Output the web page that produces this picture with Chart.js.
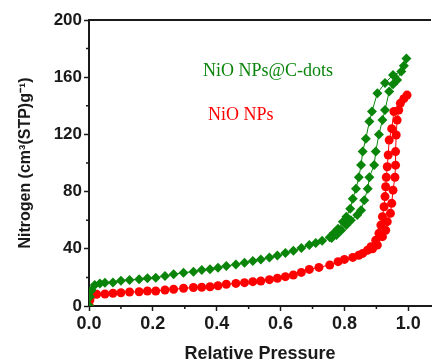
<!DOCTYPE html>
<html>
<head>
<meta charset="utf-8">
<script src="https://cdn.jsdelivr.net/npm/chart.js@4"></script>
<style>
  html, body { margin: 0; padding: 0; background: #fff; }
  #wrap { width: 436px; height: 362px; }
</style>
</head>
<body>
<div id="wrap"><canvas id="bet" width="436" height="362"></canvas></div>
<script>
// NiO NPs@C-dots, adsorption then desorption branch
const greenAdsX = [0.001, 0.003, 0.008, 0.018, 0.034, 0.05, 0.075, 0.10, 0.127, 0.157, 0.183, 0.209, 0.238, 0.265, 0.296, 0.327, 0.353, 0.379, 0.404, 0.43, 0.46, 0.487, 0.513, 0.538, 0.565, 0.59, 0.615, 0.64, 0.665, 0.69, 0.71, 0.73, 0.754, 0.767, 0.78, 0.795, 0.806, 0.818, 0.826, 0.836, 0.845, 0.852, 0.857, 0.867, 0.878, 0.886, 0.903, 0.927, 0.952, 0.978, 0.986, 0.994];
const greenAdsY = [0, 6.5, 11, 14.7, 15.8, 16.3, 16.5, 17.7, 18.2, 18.7, 19.4, 19.8, 21, 22.2, 23.3, 24, 25.2, 25.7, 26.8, 28, 29, 30.3, 31.5, 32.6, 34, 35.4, 37, 38.7, 40.5, 42.6, 44, 45.7, 48, 51, 54, 59, 62.5, 68, 75, 82, 90, 98.6, 108, 117, 129, 136, 148.7, 156, 161.5, 164, 168, 173];
const greenDesX = [0.965, 0.952, 0.94, 0.927, 0.919, 0.908, 0.898, 0.893, 0.878, 0.873, 0.862, 0.852, 0.84, 0.82, 0.806, 0.79, 0.775, 0.76];
const greenDesY = [158, 155, 150, 137, 130, 120, 108, 98.6, 90, 82, 74, 67, 63.6, 60, 56.6, 53, 49.7, 47.5];

// NiO NPs
const redAdsX = [0.001, 0.003, 0.008, 0.024, 0.05, 0.075, 0.10, 0.127, 0.157, 0.183, 0.209, 0.238, 0.265, 0.296, 0.327, 0.353, 0.379, 0.404, 0.43, 0.46, 0.487, 0.513, 0.538, 0.565, 0.59, 0.615, 0.64, 0.665, 0.69, 0.72, 0.754, 0.78, 0.80, 0.826, 0.845, 0.857, 0.872, 0.883, 0.898, 0.908, 0.914, 0.919, 0.924, 0.927, 0.929, 0.931, 0.934, 0.937, 0.94, 0.948, 0.955, 0.975, 0.986, 0.996];
const redAdsY = [0, 4.2, 7.7, 8.2, 8.4, 8.9, 9.3, 9.8, 10, 10.5, 10.5, 11.2, 11.7, 12.4, 12.9, 13.1, 13.5, 14.2, 15.2, 15.8, 16.3, 17, 17.5, 18.4, 19.4, 20.5, 21.7, 23.5, 25.6, 27, 28.7, 31, 32.6, 34, 35.5, 36.8, 39, 41.5, 46, 50.8, 56.6, 62.5, 69.4, 76.5, 83.4, 90, 97.4, 105.6, 116, 124, 136, 141.7, 145, 147.5];
const redDesX = [0.97, 0.965, 0.962, 0.96, 0.96, 0.958, 0.952, 0.948, 0.944, 0.934, 0.929, 0.919, 0.903, 0.888];
const redDesY = [137, 130, 119.6, 108, 98.5, 90, 81, 71.8, 64.8, 59, 53, 48.5, 42.6, 40];

const xTicks = [0, 0.2, 0.4, 0.6, 0.8, 1.0];
const yTicks = [0, 40, 80, 120, 160, 200];
const seriesNames = ['NiO NPs@C-dots', 'NiO NPs'];

const GREEN = '#0a850a';
const RED = '#ff0000';
const AXIS = '#1a1a1a';

const toPoints = (xs, ys) => xs.map((x, i) => ({ x, y: ys[i] }));

// minor ticks + top frame line + in-plot labels
const framePlugin = {
    id: 'frame',
    afterDraw(chart) {
        const { ctx, chartArea, scales } = chart;
        ctx.save();
        ctx.strokeStyle = AXIS;
        ctx.lineWidth = 2;
        ctx.beginPath();
        ctx.moveTo(chartArea.left - 1, chartArea.top);
        ctx.lineTo(chartArea.right, chartArea.top);
        ctx.stroke();

        ctx.lineWidth = 1.5;
        ctx.beginPath();
        for (let i = 0; i < xTicks.length; i++) {
            const v = xTicks[i] + 0.1;
            if (v > 1.07) continue;
            const px = scales.x.getPixelForValue(v);
            ctx.moveTo(px, chartArea.bottom);
            ctx.lineTo(px, chartArea.bottom + 3);
        }
        for (let i = 0; i < yTicks.length - 1; i++) {
            const py = scales.y.getPixelForValue(yTicks[i] + 20);
            ctx.moveTo(chartArea.left, py);
            ctx.lineTo(chartArea.left - 3, py);
        }
        ctx.stroke();

        ctx.font = '18px "Liberation Serif", "Times New Roman", serif';
        ctx.textBaseline = 'alphabetic';
        ctx.fillStyle = GREEN;
        ctx.fillText(seriesNames[0], 203, 76);
        ctx.fillStyle = RED;
        ctx.fillText(seriesNames[1], 208, 120);
        ctx.restore();
    },
};

const canvas = document.getElementById('bet');
const chart = new Chart(canvas, {
    type: 'scatter',
    data: {
        datasets: [
            {
                label: seriesNames[1],
                data: toPoints(redAdsX.concat(redDesX), redAdsY.concat(redDesY)),
                showLine: true,
                borderColor: RED,
                borderWidth: 1,
                backgroundColor: RED,
                pointStyle: 'circle',
                pointRadius: 4.5,
                pointBorderWidth: 0,
                order: 2,
            },
            {
                label: seriesNames[0],
                data: toPoints(greenAdsX.concat(greenDesX), greenAdsY.concat(greenDesY)),
                showLine: true,
                borderColor: GREEN,
                borderWidth: 1,
                backgroundColor: GREEN,
                pointStyle: 'rectRot',
                pointRadius: 5,
                pointBorderWidth: 0,
                order: 1,
            },
        ],
    },
    options: {
        responsive: false,
        animation: false,
        layout: { padding: { top: 20, right: 0, left: 0, bottom: 0 } },
        plugins: {
            legend: { display: false },
            tooltip: { enabled: false },
        },
        scales: {
            x: {
                type: 'linear',
                min: 0,
                max: 1.071,
                afterFit: (scale) => { scale.height = 56; },
                afterBuildTicks: (scale) => { scale.ticks = xTicks.map((v) => ({ value: v })); },
                ticks: {
                    color: AXIS,
                    padding: 2,
                    maxRotation: 0,
                    callback: (v) => Number(v).toFixed(1),
                    font: { family: 'Liberation Sans, Arial, sans-serif', size: 18, weight: 'bold' },
                },
                grid: {
                    drawOnChartArea: false,
                    tickLength: 5,
                    tickWidth: 1.5,
                    tickColor: AXIS,
                },
                border: { color: AXIS, width: 2 },
                title: {
                    display: true,
                    text: 'Relative Pressure',
                    color: AXIS,
                    padding: { top: 0, bottom: -3 },
                    font: { family: 'Liberation Sans, Arial, sans-serif', size: 18, weight: 'bold' },
                },
            },
            y: {
                min: 0,
                max: 200,
                afterFit: (scale) => { scale.width = 89; },
                afterBuildTicks: (scale) => { scale.ticks = yTicks.map((v) => ({ value: v })); },
                ticks: {
                    color: AXIS,
                    padding: 2,
                    font: { family: 'Liberation Sans, Arial, sans-serif', size: 17, weight: 'bold' },
                },
                grid: {
                    drawOnChartArea: false,
                    tickLength: 5,
                    tickWidth: 1.5,
                    tickColor: AXIS,
                },
                border: { color: AXIS, width: 2 },
                title: {
                    display: true,
                    text: 'Nitrogen (cm³(STP)g⁻¹)',
                    color: AXIS,
                    padding: { top: 16, bottom: 0 },
                    font: { family: 'Liberation Sans, Arial, sans-serif', size: 16, weight: 'bold' },
                },
            },
        },
    },
    plugins: [framePlugin],
});
</script>
</body>
</html>
